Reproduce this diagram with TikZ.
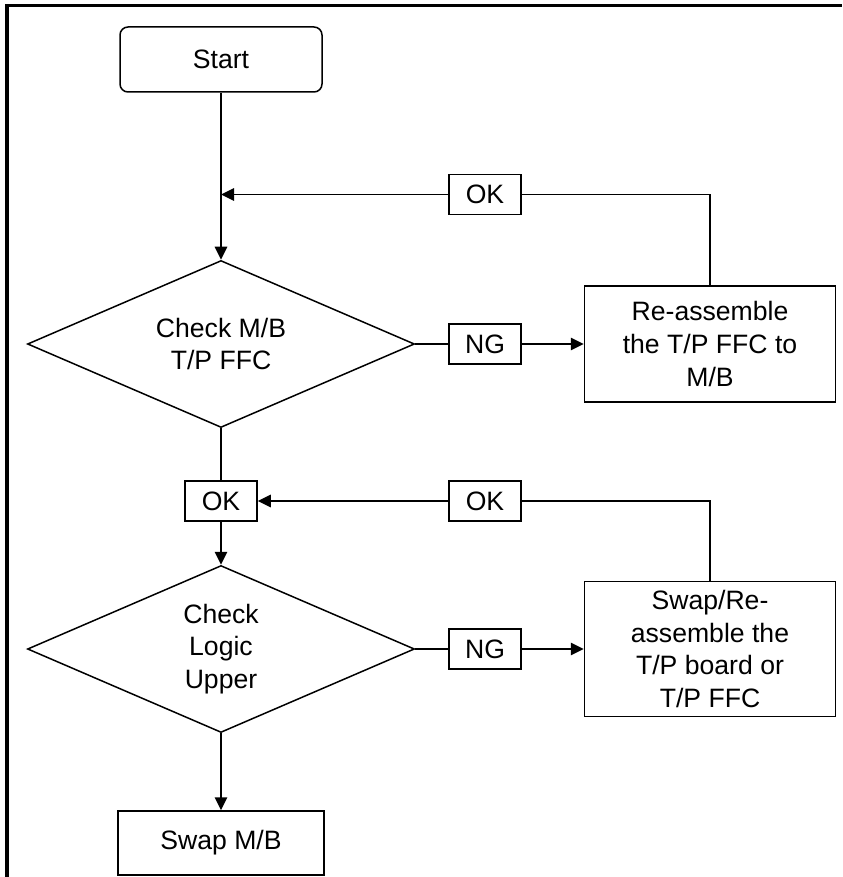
\documentclass[tikz,border=0pt]{standalone}
\usepackage{fontspec}
\setmainfont{Liberation Sans}
\usetikzlibrary{positioning, arrows.meta, shapes.geometric, calc}

\begin{document}
\begin{tikzpicture}[
    font=\fontsize{13.3}{16.3}\selectfont,
    >={Triangle[length=6.5pt, width=6.2pt]},
    line width=0.75pt,
    startbox/.style={draw, rounded corners=4pt, minimum width=101pt, minimum height=32.5pt},
    decision/.style={draw, diamond, aspect=2.33, inner sep=0pt, minimum width=193.5pt,
        minimum height=83.5pt, align=center},
    tag/.style={draw, minimum width=36pt, minimum height=20pt, inner sep=2pt},
    action/.style={draw, minimum width=125.5pt, align=center, inner sep=3pt},
    flow/.style={->}
  ]
    \useasboundingbox (0,0) rectangle (421pt,-438.5pt);
    \draw[line width=1.9pt] (3.5pt,-438.5pt) -- (3.5pt,-2.75pt) -- (421pt,-2.75pt);
    \node[startbox] (start) at (110.5pt,-29.75pt) {Start};
    \node[decision, below=83.5pt of start] (d1) {Check M/B\\T/P FFC};
    \node[tag, right=16.5pt of d1] (ng1) {NG};
    \node[action, minimum height=58pt, right=31pt of ng1] (fix1) {Re-assemble\\the T/P FFC to\\M/B};
    \node[tag, above=54pt of ng1] (ok1) {OK};
    \node[tag, below=26pt of d1] (ok2) {OK};
    \node[decision, below=21.5pt of ok2] (d2) {Check\\Logic\\Upper};
    \node[tag, right=16.5pt of d2] (ng2) {NG};
    \node[action, minimum height=67.5pt, right=31pt of ng2] (fix2) {Swap/Re-\\assemble the\\T/P board or\\T/P FFC};
    \node[tag] (ok3) at (ok2 -| ng2) {OK};
    \node[draw, minimum width=103pt, minimum height=32pt, below=38.5pt of d2] (swap) {Swap M/B};
    \draw[flow] (start) -- (d1);
    \draw (d1.east) -- (ng1.west);
    \draw[flow] (ng1) -- (fix1);
    \draw (fix1.north) |- (ok1.east);
    \draw[flow] (ok1.west) -- (ok1 -| start);
    \draw (d1) -- (ok2);
    \draw[flow] (ok2) -- (d2);
    \draw (d2.east) -- (ng2.west);
    \draw[flow] (ng2) -- (fix2);
    \draw (fix2.north) |- (ok3.east);
    \draw[flow] (ok3) -- (ok2);
    \draw[flow] (d2) -- (swap);
  \end{tikzpicture}
\end{document}
